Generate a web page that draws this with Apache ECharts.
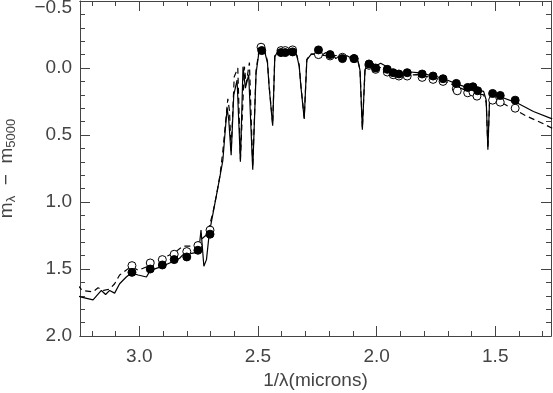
<!DOCTYPE html>
<html>
<head>
<meta charset="utf-8">
<script src="https://cdn.jsdelivr.net/npm/echarts@6/dist/echarts.min.js"></script>
<style>
  html, body { margin: 0; padding: 0; background: #fff; }
  #chart { width: 553px; height: 393px; }
</style>
</head>
<body>
<div id="chart"></div>
<script>
// spectrum: 1/lambda (microns) and m_lambda - m_5000
const solidX = [3.26, 3.244, 3.195, 3.16, 3.142, 3.125, 3.104, 3.083, 3.055, 3.034, 3.005, 2.97, 2.954, 2.903, 2.853, 2.83, 2.817, 2.768, 2.749, 2.74, 2.728, 2.717, 2.705, 2.684, 2.663, 2.648, 2.639, 2.63, 2.623, 2.613, 2.602, 2.588, 2.574, 2.563, 2.553, 2.539, 2.522, 2.508, 2.495, 2.484, 2.47, 2.46, 2.453, 2.438, 2.429, 2.417, 2.347, 2.336, 2.326, 2.319, 2.305, 2.294, 2.277, 2.256, 2.235, 2.214, 2.20, 2.186, 2.172, 2.151, 2.123, 2.102, 2.081, 2.07, 2.06, 2.049, 2.039, 2.025, 2.004, 1.983, 1.962, 1.927, 1.885, 1.857, 1.829, 1.787, 1.745, 1.703, 1.661, 1.619, 1.577, 1.549, 1.538, 1.531, 1.524, 1.514, 1.479, 1.409, 1.339, 1.26];
const solidY = [1.70, 1.71, 1.73, 1.66, 1.69, 1.66, 1.68, 1.61, 1.56, 1.53, 1.545, 1.56, 1.51, 1.48, 1.44, 1.42, 1.395, 1.38, 1.36, 1.21, 1.48, 1.43, 1.23, 1.035, 0.836, 0.69, 0.49, 0.30, 0.39, 0.65, 0.20, 0.09, 0.70, -0.01, 0.15, 0.05, 0.76, 0.04, -0.13, -0.14, -0.11, -0.04, 0.14, 0.43, -0.085, -0.12, -0.12, -0.09, -0.01, 0.14, 0.38, -0.06, -0.10, -0.11, -0.09, -0.115, -0.085, -0.105, -0.07, -0.10, -0.09, -0.07, -0.07, 0.015, 0.46, 0.015, -0.035, -0.05, -0.015, -0.035, -0.015, 0.03, 0.04, 0.03, 0.035, 0.05, 0.065, 0.09, 0.12, 0.145, 0.165, 0.175, 0.24, 0.61, 0.24, 0.19, 0.215, 0.26, 0.325, 0.38];

const dashX = [3.26, 3.24, 3.195, 3.174, 3.15, 3.125, 3.104, 3.083, 3.034, 3.005, 2.964, 2.954, 2.903, 2.853, 2.817, 2.78, 2.76, 2.72, 2.705, 2.69, 2.675, 2.66, 2.648, 2.639, 2.627, 2.62, 2.613, 2.60, 2.585, 2.574, 2.557, 2.55, 2.536, 2.522, 2.508, 2.495, 2.484, 2.47, 2.46, 2.453, 2.438, 2.429, 2.417, 2.347, 2.336, 2.326, 2.319, 2.305, 2.294, 2.277, 2.235, 2.20, 2.151, 2.102, 2.081, 2.07, 2.06, 2.049, 2.039, 2.004, 1.962, 1.927, 1.885, 1.829, 1.787, 1.745, 1.703, 1.661, 1.619, 1.577, 1.549, 1.538, 1.531, 1.524, 1.507, 1.451, 1.367, 1.304, 1.26];
const dashY = [1.62, 1.66, 1.67, 1.64, 1.66, 1.65, 1.61, 1.545, 1.48, 1.51, 1.48, 1.45, 1.42, 1.38, 1.33, 1.33, 1.31, 1.25, 1.18, 1.08, 0.95, 0.80, 0.62, 0.45, 0.23, 0.32, 0.62, 0.065, 0.0, 0.68, -0.01, 0.12, -0.04, 0.74, 0.02, -0.14, -0.15, -0.12, -0.05, 0.13, 0.42, -0.09, -0.125, -0.125, -0.095, -0.02, 0.13, 0.37, -0.065, -0.105, -0.095, -0.09, -0.095, -0.075, -0.07, 0.01, 0.45, 0.02, -0.03, -0.005, 0.0, 0.045, 0.055, 0.05, 0.065, 0.08, 0.105, 0.14, 0.17, 0.19, 0.20, 0.26, 0.60, 0.26, 0.225, 0.28, 0.36, 0.41, 0.45];

const filledX = [3.031, 2.954, 2.903, 2.853, 2.80, 2.753, 2.702, 2.484, 2.403, 2.385, 2.354, 2.245, 2.196, 2.144, 2.095, 2.032, 2.004, 1.955, 1.93, 1.906, 1.871, 1.808, 1.762, 1.72, 1.664, 1.616, 1.594, 1.574, 1.511, 1.479, 1.416];
const filledY = [1.525, 1.50, 1.47, 1.43, 1.41, 1.36, 1.24, -0.13, -0.115, -0.115, -0.12, -0.135, -0.10, -0.07, -0.07, -0.03, 0.0, 0.01, 0.035, 0.045, 0.035, 0.045, 0.06, 0.08, 0.115, 0.145, 0.14, 0.17, 0.19, 0.205, 0.24];

const openX = [3.031, 2.954, 2.903, 2.853, 2.80, 2.753, 2.702, 2.487, 2.403, 2.385, 2.354, 2.245, 2.196, 2.144, 2.095, 2.032, 2.004, 1.955, 1.93, 1.906, 1.871, 1.808, 1.762, 1.72, 1.664, 1.66, 1.616, 1.594, 1.577, 1.511, 1.479, 1.416];
const openY = [1.475, 1.455, 1.43, 1.39, 1.37, 1.325, 1.21, -0.155, -0.13, -0.13, -0.135, -0.10, -0.09, -0.08, -0.07, -0.02, 0.01, 0.03, 0.05, 0.06, 0.06, 0.07, 0.085, 0.10, 0.155, 0.17, 0.185, 0.18, 0.21, 0.24, 0.255, 0.30];

const xMajor = [1.5, 2.0, 2.5, 3.0];
const xMinor = [1.3, 1.4, 1.6, 1.7, 1.8, 1.9, 2.1, 2.2, 2.3, 2.4, 2.6, 2.7, 2.8, 2.9, 3.1, 3.2];

const pairs = (xs, ys) => xs.map((x, i) => [x, ys[i]]);

const chart = echarts.init(document.getElementById('chart'), null, { renderer: 'canvas' });

const font = 'Liberation Sans';
const axisCol = '#444';
const txtCol = '#444';
const X_MIN = 1.265, X_MAX = 3.25;

const xBase = {
    type: 'value', min: X_MIN, max: X_MAX, inverse: true,
    splitLine: { show: false },
    axisLine: { show: true, onZero: false, lineStyle: { color: axisCol, width: 1 } }
};
const yBase = {
    type: 'value', min: -0.5, max: 2.0, interval: 0.5, inverse: true,
    splitLine: { show: false },
    axisLine: { show: true, onZero: false, lineStyle: { color: axisCol, width: 1 } }
};
const tick = (len, vals) => {
    const t = { show: true, inside: true, length: len, lineStyle: { color: axisCol, width: 1 } };
    if (vals) t.customValues = vals;
    return t;
};

chart.setOption({
    animation: false,
    backgroundColor: '#fff',
    grid: { left: 80, right: 2, top: 1, bottom: 57, outerBoundsMode: 'none', containLabel: false },
    xAxis: [
        Object.assign({}, xBase, {
            position: 'bottom',
            name: '1/λ(microns)', nameLocation: 'middle', nameGap: 32,
            nameTextStyle: { fontFamily: font, fontSize: 19, color: txtCol },
            axisTick: tick(10, xMajor),
            axisLabel: { customValues: xMajor, margin: 11, fontFamily: font, fontSize: 19, color: txtCol,
                formatter: v => v.toFixed(1) }
        }),
        Object.assign({}, xBase, { position: 'bottom', axisTick: tick(5, xMinor), axisLabel: { show: false } }),
        Object.assign({}, xBase, { position: 'top', axisTick: tick(10, xMajor), axisLabel: { show: false } }),
        Object.assign({}, xBase, { position: 'top', axisTick: tick(5, xMinor), axisLabel: { show: false } })
    ],
    yAxis: [
        Object.assign({}, yBase, {
            position: 'left',
            name: 'm{s|λ}  −  m{s|5000}', nameLocation: 'middle', nameGap: 62, nameRotate: 90,
            nameTextStyle: {
                fontFamily: font, fontSize: 19, color: txtCol,
                rich: { s: { fontFamily: font, fontSize: 13, color: txtCol, padding: [9, 0, 0, 0] } }
            },
            axisTick: tick(10),
            minorTick: { show: true, splitNumber: 5, length: 5, lineStyle: { color: axisCol, width: 1 } },
            axisLabel: {
                margin: 8, fontFamily: font, fontSize: 19, color: txtCol,
                rich: { top: { fontFamily: font, fontSize: 19, color: txtCol, padding: [14, 0, 0, 0] } },
                formatter: v => (v < 0 ? '{top|−' + Math.abs(v).toFixed(1) + '}' : v.toFixed(1))
            }
        }),
        Object.assign({}, yBase, {
            position: 'right',
            axisTick: tick(10),
            minorTick: { show: true, splitNumber: 5, length: 5, lineStyle: { color: axisCol, width: 1 } },
            axisLabel: { show: false }
        })
    ],
    series: [
        {
            type: 'line', data: pairs(dashX, dashY), showSymbol: false, z: 2,
            lineStyle: { color: '#000', width: 1.2, type: [6, 4] }
        },
        {
            type: 'line', data: pairs(solidX, solidY), showSymbol: false, z: 3,
            lineStyle: { color: '#000', width: 1.2 }
        },
        {
            type: 'scatter', data: pairs(openX, openY), symbol: 'circle', symbolSize: 8, z: 4,
            itemStyle: { color: '#fff', borderColor: '#000', borderWidth: 1, opacity: 1 }
        },
        {
            type: 'scatter', data: pairs(filledX, filledY), symbol: 'circle', symbolSize: 8, z: 5,
            itemStyle: { color: '#000', borderColor: '#000', borderWidth: 1, opacity: 1 }
        }
    ]
});
</script>
</body>
</html>
